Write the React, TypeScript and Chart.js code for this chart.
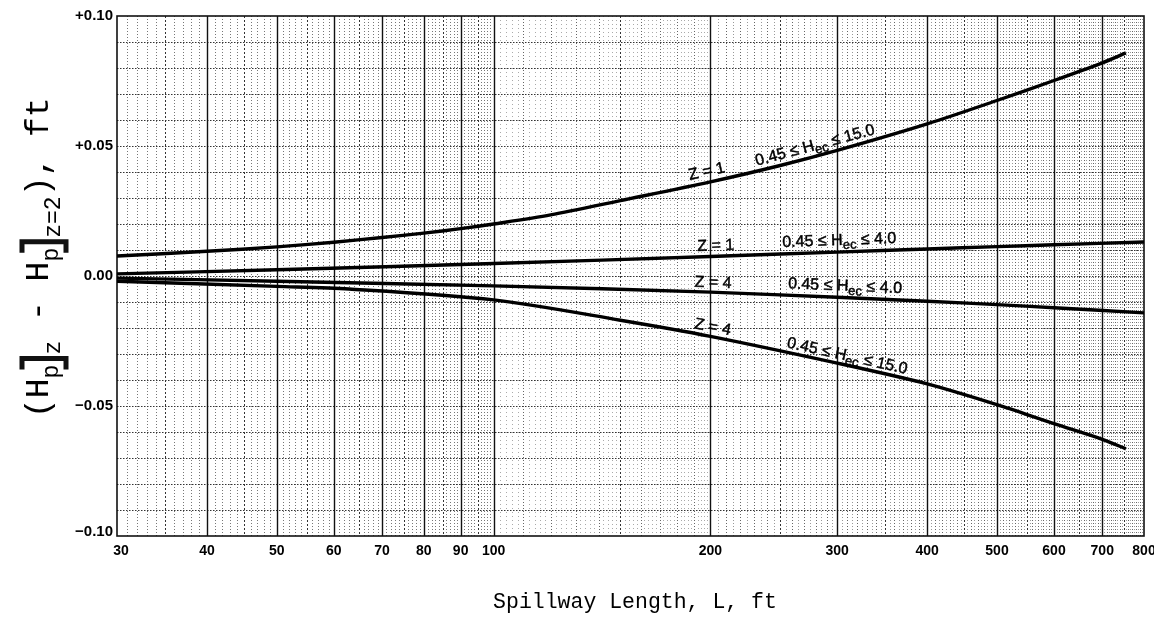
import { useEffect, useRef } from "react";
import { Chart, registerables } from "chart.js";

Chart.register(...registerables);

// Head difference (ft) versus spillway length L (ft) for each curve
const L_Z1_HEC15 = [30, 40, 50, 60, 70, 80, 90, 100, 120, 150, 200, 250, 300, 400, 500, 600, 700, 755];
const DH_Z1_HEC15 = [0.0077, 0.0095, 0.0112, 0.013, 0.0148, 0.0165, 0.0182, 0.02, 0.0235, 0.029, 0.0362, 0.0425, 0.0483, 0.0585, 0.0675, 0.0752, 0.082, 0.0858];

const L_Z1_HEC4 = [30, 50, 100, 200, 300, 400, 500, 600, 800];
const DH_Z1_HEC4 = [0.0008, 0.0024, 0.0048, 0.0075, 0.0092, 0.0104, 0.0113, 0.012, 0.0131];

const L_Z4_HEC4 = [30, 50, 100, 200, 300, 400, 500, 600, 800];
const DH_Z4_HEC4 = [-0.0008, -0.002, -0.0038, -0.0062, -0.0082, -0.0097, -0.011, -0.0122, -0.0142];

const L_Z4_HEC15 = [30, 50, 63, 100, 150, 200, 300, 400, 500, 600, 700, 755];
const DH_Z4_HEC15 = [-0.002, -0.004, -0.005, -0.0092, -0.017, -0.0232, -0.0335, -0.0415, -0.0495, -0.0568, -0.0628, -0.0665];

// Axis ticks
const X_TICKS = [30, 40, 50, 60, 70, 80, 90, 100, 200, 300, 400, 500, 600, 700, 800];
const Y_TICKS = [0.1, 0.05, 0, -0.05, -0.1];
const Y_TICK_LABELS = ["+0.10", "+0.05", "0.00", "\u22120.05", "\u22120.10"];

// Curve captions: Z value and upper limit of H_ec
const CURVE_Z = ["Z = 1", "Z = 1", "Z = 4", "Z = 4"];
const CURVE_HEC_MAX = ["15.0", "4.0", "4.0", "15.0"];

const X_TITLE = "Spillway Length, L, ft";

const SERIES = [
  { L: L_Z1_HEC15, dh: DH_Z1_HEC15 },
  { L: L_Z1_HEC4, dh: DH_Z1_HEC4 },
  { L: L_Z4_HEC4, dh: DH_Z4_HEC4 },
  { L: L_Z4_HEC15, dh: DH_Z4_HEC15 },
];

// where each caption sits along its curve (L of text start) and how far above the line
const CAPTION_LAYOUT = [
  { zAt: 188, zLift: 6, rangeAt: 233, rangeLift: 5 },
  { zAt: 192, zLift: 6, rangeAt: 252, rangeLift: 7 },
  { zAt: 190, zLift: 5, rangeAt: 256, rangeLift: 7 },
  { zAt: 189, zLift: 5, rangeAt: 254, rangeLift: 5 },
];

const SANS = "'Liberation Sans', Arial, sans-serif";
const MONO = "'Liberation Mono', 'DejaVu Sans Mono', monospace";
const CAPTION_FONT = `16px ${SANS}`;
const CAPTION_SUB_FONT = `13px ${SANS}`;

function interp(L: number[], v: number[], x: number) {
  const lx = Math.log(x);
  for (let i = 0; i < L.length - 1; i++) {
    const a = Math.log(L[i]);
    const b = Math.log(L[i + 1]);
    if (lx >= a && lx <= b) return v[i] + ((lx - a) / (b - a)) * (v[i + 1] - v[i]);
  }
  return lx < Math.log(L[0]) ? v[0] : v[v.length - 1];
}

const paperPlugin = {
  id: "paper",
  beforeDatasetsDraw(chart: any) {
    const ctx = chart.ctx as CanvasRenderingContext2D;
    const xs = chart.scales.x;
    const ys = chart.scales.y;
    const { left, right, top, bottom } = chart.chartArea;
    ctx.save();
    ctx.fillStyle = "#fff";
    ctx.fillRect(left, top, right - left, bottom - top);

    const vline = (v: number, color: string, w: number, dash: number[]) => {
      const px = Math.round(xs.getPixelForValue(v)) + 0.5;
      ctx.beginPath();
      ctx.strokeStyle = color;
      ctx.lineWidth = w;
      ctx.setLineDash(dash);
      ctx.moveTo(px, top);
      ctx.lineTo(px, bottom);
      ctx.stroke();
    };
    const hline = (v: number, color: string, w: number, dash: number[]) => {
      const py = Math.round(ys.getPixelForValue(v)) + 0.5;
      ctx.beginPath();
      ctx.strokeStyle = color;
      ctx.lineWidth = w;
      ctx.setLineDash(dash);
      ctx.moveTo(left, py);
      ctx.lineTo(right, py);
      ctx.stroke();
    };

    // fine log-paper rulings
    for (let v = 31; v < 100; v++) {
      if (v % 10 === 0) continue;
      if (v % 5 === 0) vline(v, "#333", 1, [2, 2]);
      else vline(v, "#777", 1, [1, 2]);
    }
    for (let v = 102; v < 200; v += 2) {
      if (v % 50 === 0) vline(v, "#333", 1, [2, 2]);
      else if (v % 10 === 0) vline(v, "#666", 1, [1, 2]);
      else vline(v, "#aaa", 1, [1, 3]);
    }
    for (let v = 205; v < 800; v += 5) {
      if (v % 100 === 0) continue;
      if (v % 50 === 0) vline(v, "#333", 1, [2, 2]);
      else if (v % 10 === 0) vline(v, "#666", 1, [1, 2]);
      else vline(v, "#999", 1, [1, 2]);
    }
    for (let k = -9; k <= 9; k++) {
      hline(k / 100, "#333", 1, [1.5, 1.5]);
    }
    // heavy decade rulings
    X_TICKS.forEach((v) => {
      if (v > 30 && v < 800) vline(v, "#111", 1.4, []);
    });
    ctx.setLineDash([]);
    ctx.strokeStyle = "#111";
    ctx.lineWidth = 1.6;
    ctx.strokeRect(left, top, right - left, bottom - top);
    ctx.restore();
  },
  afterDatasetsDraw(chart: any) {
    const ctx = chart.ctx as CanvasRenderingContext2D;
    const xs = chart.scales.x;
    const ys = chart.scales.y;
    const { left, bottom } = chart.chartArea;
    ctx.save();
    ctx.fillStyle = "#000";

    // y tick labels
    ctx.font = `bold 15px ${SANS}`;
    ctx.textAlign = "right";
    ctx.textBaseline = "middle";
    Y_TICKS.forEach((v, i) => {
      ctx.fillText(Y_TICK_LABELS[i], left - 4, ys.getPixelForValue(v) + (v === -0.1 ? -4 : 0));
    });
    // x tick labels
    ctx.font = `bold 14px ${SANS}`;
    ctx.textAlign = "center";
    ctx.textBaseline = "middle";
    X_TICKS.forEach((v) => {
      const px = xs.getPixelForValue(v) + (v === 30 ? 4 : 0);
      ctx.fillText(String(v), px, bottom + 15);
    });

    // curve captions, laid on the chord of the curve under the text
    const drawAlong = (s: number, at: number, lift: number, parts: { t: string; sub?: boolean }[]) => {
      const { L, dh } = SERIES[s];
      let w = 0;
      parts.forEach((p) => {
        ctx.font = p.sub ? CAPTION_SUB_FONT : CAPTION_FONT;
        w += ctx.measureText(p.t).width;
      });
      const x0 = xs.getPixelForValue(at);
      const y0 = ys.getPixelForValue(interp(L, dh, at));
      let x1 = x0 + w;
      let y1 = y0;
      for (let k = 0; k < 4; k++) {
        y1 = ys.getPixelForValue(interp(L, dh, xs.getValueForPixel(x1)));
        const a = Math.atan2(y1 - y0, x1 - x0);
        x1 = x0 + w * Math.cos(a);
      }
      const ang = Math.atan2(y1 - y0, x1 - x0);
      ctx.save();
      ctx.translate(x0, y0);
      ctx.rotate(ang);
      ctx.textAlign = "left";
      ctx.textBaseline = "alphabetic";
      ctx.strokeStyle = "#000";
      ctx.lineWidth = 0.45;
      let cx = 0;
      parts.forEach((p) => {
        ctx.font = p.sub ? CAPTION_SUB_FONT : CAPTION_FONT;
        const yy = p.sub ? -lift + 4 : -lift;
        ctx.fillText(p.t, cx, yy);
        ctx.strokeText(p.t, cx, yy);
        cx += ctx.measureText(p.t).width;
      });
      ctx.restore();
    };
    CAPTION_LAYOUT.forEach((c, i) => {
      drawAlong(i, c.zAt, c.zLift, [{ t: CURVE_Z[i] }]);
      drawAlong(i, c.rangeAt, c.rangeLift, [
        { t: "0.45 \u2264 H" },
        { t: "ec", sub: true },
        { t: " \u2264 " + CURVE_HEC_MAX[i] },
      ]);
    });

    // x-axis title
    ctx.font = `21.5px ${MONO}`;
    ctx.textAlign = "center";
    ctx.textBaseline = "middle";
    ctx.fillText(X_TITLE, 635, 602);

    // y-axis title, read bottom to top
    ctx.translate(48, 418);
    ctx.rotate(-Math.PI / 2);
    ctx.textAlign = "left";
    ctx.textBaseline = "alphabetic";
    const big = `33px ${MONO}`;
    const small = `23px ${MONO}`;
    let s = 0;
    const put = (t: string, font: string, dy: number) => {
      ctx.font = font;
      ctx.fillText(t, s, dy);
      s += ctx.measureText(t).width;
    };
    const bracket = () => {
      ctx.save();
      ctx.lineWidth = 5;
      ctx.lineJoin = "miter";
      ctx.beginPath();
      ctx.moveTo(s - 5, -26);
      ctx.lineTo(s + 6, -26);
      ctx.lineTo(s + 6, 18);
      ctx.lineTo(s - 5, 18);
      ctx.strokeStyle = "#111";
      ctx.stroke();
      ctx.restore();
      s += 10;
    };
    put("(", big, 0);
    put("H", big, 0);
    put("p", small, 10);
    bracket();
    put("z", small, 12);
    put(" - ", big, 0);
    put("H", big, 0);
    put("p", small, 10);
    bracket();
    put("z=2", small, 12);
    put(")", big, 0);
    put(", ft", big, 0);
    ctx.restore();
  },
};

export default function App() {
  const ref = useRef<HTMLCanvasElement | null>(null);
  useEffect(() => {
    document.body.style.margin = "0";
    document.body.style.background = "#fff";
    const canvas = ref.current;
    if (!canvas) return;
    const chart = new Chart(canvas, {
      type: "line",
      data: {
        datasets: SERIES.map((s) => ({
          data: s.L.map((x, i) => ({ x, y: s.dh[i] })),
          borderColor: "#000",
          borderWidth: 3.4,
          pointRadius: 0,
          tension: 0.3,
          fill: false,
        })),
      },
      options: {
        animation: false,
        responsive: false,
        devicePixelRatio: 1,
        layout: { padding: { left: 117, right: 10, top: 16, bottom: 81 } },
        scales: {
          x: { type: "logarithmic", min: 30, max: 800, display: false },
          y: { type: "linear", min: -0.1, max: 0.1, display: false },
        },
        plugins: { legend: { display: false }, tooltip: { enabled: false } },
      },
      plugins: [paperPlugin],
    });
    return () => chart.destroy();
  }, []);
  return (
    <div style={{ width: 1154, height: 617, background: "#fff" }}>
      <canvas ref={ref} width={1154} height={617} style={{ display: "block" }} />
    </div>
  );
}
